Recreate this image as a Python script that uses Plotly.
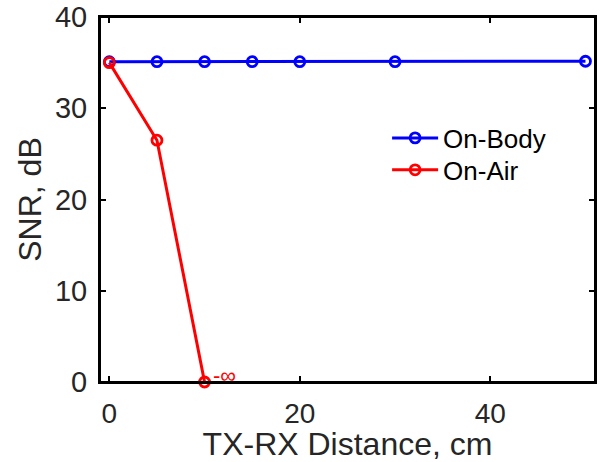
import plotly.graph_objects as go

body_x = [0, 5, 10, 15, 20, 30, 50]
body_snr = [35.1, 35.1, 35.1, 35.1, 35.1, 35.1, 35.15]
air_x = [0, 5, 10]
air_snr = [35.0, 26.5, 0.0]
series_names = ["On-Body", "On-Air"]
x_ticks = [0, 20, 40]
y_ticks = [0, 10, 20, 30, 40]
inf_label = "-\u221e"
inf_pos = (12.1, 0.75)

font = "Liberation Sans, Arial, sans-serif"
fig = go.Figure()
fig.add_trace(go.Scatter(x=body_x, y=body_snr, name=series_names[0], mode="lines+markers",
                         line=dict(color="#0000ff", width=3),
                         marker=dict(symbol="circle-open", size=10, color="#0000ff", line=dict(width=2.8)),
                         cliponaxis=False, legend="legend"))
fig.add_trace(go.Scatter(x=air_x, y=air_snr, name=series_names[1], mode="lines+markers",
                         line=dict(color="#ff0000", width=3),
                         marker=dict(symbol="circle-open", size=10, color="#ff0000", line=dict(width=2.8)),
                         cliponaxis=False, legend="legend2"))
fig.add_annotation(x=inf_pos[0], y=inf_pos[1], text=inf_label, showarrow=False,
                   font=dict(family=font, size=22, color="#ff0000"))
fig.add_shape(type="rect", xref="x domain", yref="y domain", x0=0, x1=1, y0=0, y1=1,
              line=dict(color="black", width=2), layer="above")

axis_common = dict(showline=True, linecolor="black", linewidth=2, mirror="ticks",
                   ticks="inside", ticklen=6, tickwidth=2, tickcolor="black",
                   showgrid=False, zeroline=False, automargin=False,
                   title_font=dict(family=font, size=32, color="#262626"))
fig.update_xaxes(range=[-0.98, 51.0], tickvals=x_ticks, title_text="TX-RX Distance, cm",
                 tickfont=dict(family=font, size=28, color="#262626"),
                 ticklabelstandoff=5, title_standoff=2, **axis_common)
fig.update_yaxes(range=[0, 40], tickvals=y_ticks, title_text="SNR, dB",
                 tickfont=dict(family=font, size=29, color="#262626"),
                 ticklabelstandoff=5, title_standoff=4, **axis_common)
leg_common = dict(xanchor="left", yanchor="middle", bgcolor="rgba(0,0,0,0)",
                  font=dict(family=font, size=26, color="black"), itemwidth=46)
fig.update_layout(width=602, height=462, margin=dict(l=100, r=7, t=17, b=80, autoexpand=False),
                  plot_bgcolor="white", paper_bgcolor="white",
                  legend=dict(x=0.58, y=0.6685, **leg_common),
                  legend2=dict(x=0.58, y=0.581, **leg_common),
                  showlegend=True)
fig.write_html("out.html", config={"displayModeBar": False},
               post_script="document.body.style.margin='0';document.body.style.overflow='hidden';")
